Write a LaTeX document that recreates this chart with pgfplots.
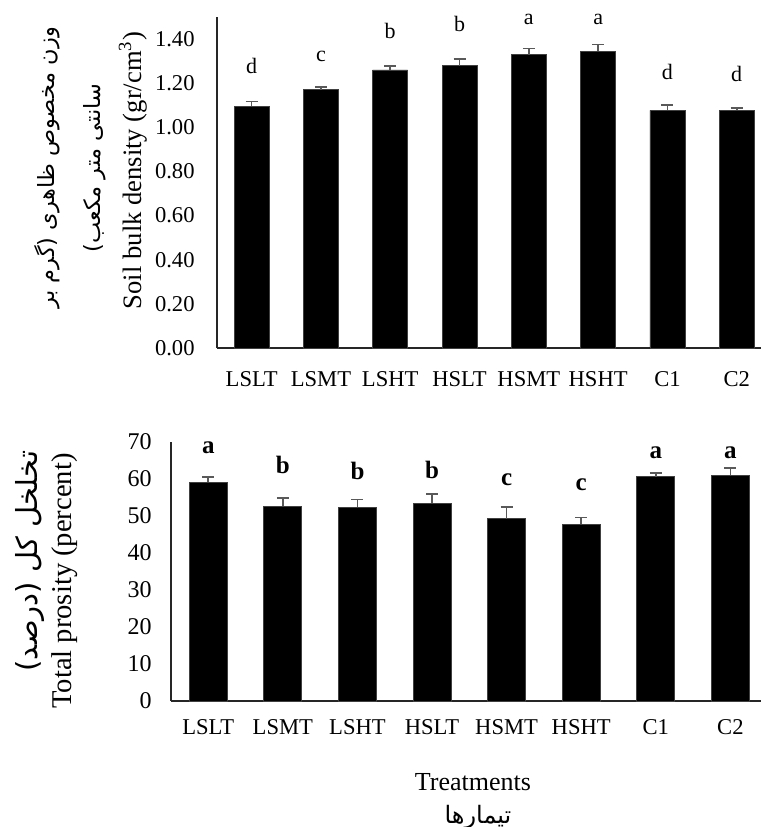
\documentclass[border=0pt]{standalone}
\usepackage{fontspec}
\setmainfont{Liberation Serif}
\newfontfamily\arabicfont[Script=Arabic]{DejaVu Sans}
\TeXXeTstate=1
\usepackage{pgfplots}
\usepackage{pgfplotstable}
\pgfplotsset{compat=1.18}

\pgfplotstableread{
x y e lab ly
0 1.095 0.023 d 1.277
1 1.170 0.014 c 1.323
2 1.260 0.018 b 1.436
3 1.280 0.030 b 1.468
4 1.330 0.027 a 1.490
5 1.345 0.030 a 1.490
6 1.077 0.023 d 1.250
7 1.077 0.010 d 1.241
}\topdata

\pgfplotstableread{
x y e lab ly
0 59.1 1.5 a 68.4
1 52.7 2.2 b 63.8
2 52.4 2.1 b 62.1
3 53.5 2.4 b 62.4
4 49.3 3.2 c 59.7
5 47.8 1.8 c 58.4
6 60.6 1.1 a 67.0
7 61.0 1.9 a 67.0
}\botdata

\definecolor{errgray}{RGB}{89,89,89}

\pgfplotsset{
  mybars/.style={
    scale only axis,
    axis x line*=bottom, axis y line*=left,
    axis line style={-, black!85, line width=0.6pt},
    major tick length=0pt,
    xmin=-0.5,
    ymin=0,
    xtick={0,...,7},
    xticklabels={LSLT,LSMT,LSHT,HSLT,HSMT,HSHT,C1,C2},
    ticklabel style={font=\fontsize{11.3}{13.5}\selectfont},
    /pgf/number format/assume math mode=true,
    clip=false,
  },
}

\begin{document}
\fontsize{11.3}{13.5}\selectfont
\begin{tikzpicture}[font=\fontsize{11.3}{13.5}\selectfont]
\useasboundingbox (0pt,0pt) rectangle (380.5pt,-413.5pt);

% ---------- top axis ----------
\begin{axis}[mybars,
  at={(108.5pt,-174pt)}, anchor=south west,
  width=272pt, height=165.5pt,
  xmax=7.35, ymax=1.5,
  ytick={0,0.2,0.4,0.6,0.8,1.0,1.2,1.4},
  yticklabel style={/pgf/number format/fixed, /pgf/number format/fixed zerofill, /pgf/number format/precision=2, inner sep=0pt, xshift=-11pt},
  xticklabel style={inner sep=0pt, yshift=-11.5pt},
]
\addplot[ybar, bar width=17.5pt, bar shift=0pt, fill=black, draw=black!75, line width=0.4pt,
  error bars/.cd, y dir=plus, y explicit,
  error bar style={errgray, line width=0.8pt},
  error mark options={rotate=90, mark size=3pt, errgray, line width=0.8pt}]
  table[x=x, y=y, y error=e] {\topdata};
\addplot[draw=none, mark=none, nodes near coords, point meta=explicit symbolic,
  nodes near coords style={anchor=center, font=\fontsize{11}{13}\selectfont}]
  table[x=x, y=ly, meta=lab] {\topdata};
\end{axis}

% ---------- bottom axis ----------
\begin{axis}[mybars,
  at={(85.5pt,-350.5pt)}, anchor=south west,
  width=295pt, height=129.5pt,
  xmax=7.41, ymax=70,
  ytick={0,10,20,30,40,50,60,70},
  yticklabel style={inner sep=0pt, xshift=-9.5pt, font=\fontsize{12}{14}\selectfont},
  xticklabel style={inner sep=0pt, yshift=-9pt},
]
\addplot[ybar, bar width=19pt, bar shift=0pt, fill=black, draw=black!75, line width=0.4pt,
  error bars/.cd, y dir=plus, y explicit,
  error bar style={errgray, line width=0.8pt},
  error mark options={rotate=90, mark size=3pt, errgray, line width=0.8pt}]
  table[x=x, y=y, y error=e] {\botdata};
\addplot[draw=none, mark=none, nodes near coords, point meta=explicit symbolic,
  nodes near coords style={anchor=center, font=\fontsize{12.5}{15}\selectfont\bfseries}]
  table[x=x, y=ly, meta=lab] {\botdata};
\end{axis}

% ---------- labels ----------
\node[rotate=90, font=\fontsize{13.3}{16}\selectfont] at (66.5pt,-85.3pt) {Soil bulk density (gr/cm\textsuperscript{3})};
\node[rotate=90, font=\fontsize{11.2}{13}\selectfont] at (23.5pt,-84pt) {\arabicfont\beginR وزن مخصوص ظاهری (گرم بر\endR};
\node[rotate=90, font=\fontsize{11.2}{13}\selectfont] at (47.5pt,-84pt) {\arabicfont\beginR سانتی متر مکعب)\endR};

\node[rotate=90, font=\fontsize{14.3}{17}\selectfont] at (32.5pt,-290.5pt) {Total prosity (percent)};
\node[rotate=90, font=\fontsize{14.5}{17}\selectfont] at (15pt,-280.5pt) {\arabicfont\beginR تخلخل کل (درصد)\endR};

\node[font=\fontsize{13}{15}\selectfont] at (236.5pt,-391pt) {Treatments};
\node[font=\fontsize{12}{14}\selectfont] at (239pt,-408.5pt) {\arabicfont\beginR تیمارها\endR};
\end{tikzpicture}
\end{document}
